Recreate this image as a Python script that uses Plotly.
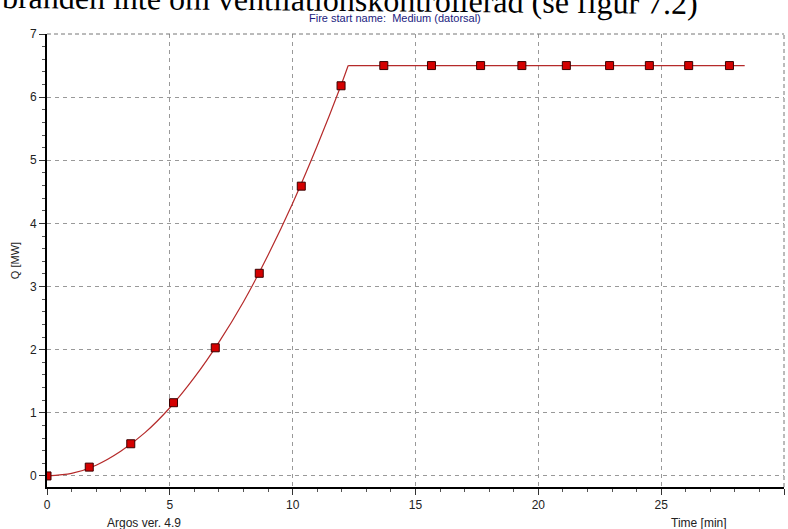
import plotly.graph_objects as go

# Growth part of the curve
grow_t = [0, 1, 2, 3, 4, 5, 6, 7, 8, 9, 10, 11, 12, 12.26]
grow_q = [0, 0.04, 0.17, 0.39, 0.69, 1.08, 1.56, 2.12, 2.76, 3.5, 4.32, 5.23, 6.22, 6.5]
# Plateau part
flat_t = [12.26, 28.4]
flat_q = [6.5, 6.5]

# Markers
mark_t = [0, 1.72, 3.41, 5.15, 6.85, 8.64, 10.35, 11.97, 13.71, 15.65, 17.65, 19.33, 21.14, 22.9, 24.52, 26.12, 27.78]
mark_q = [0, 0.14, 0.51, 1.16, 2.03, 3.21, 4.59, 6.18, 6.5, 6.5, 6.5, 6.5, 6.5, 6.5, 6.5, 6.5, 6.5]

x_ticks = [0, 5, 10, 15, 20, 25, 30]
y_ticks = [0, 1, 2, 3, 4, 5, 6, 7]

line_col = "#b52a2a"
fig = go.Figure()
fig.add_trace(go.Scatter(x=grow_t, y=grow_q, mode="lines",
                         line=dict(color=line_col, width=1.2, shape="spline", smoothing=0.8),
                         hoverinfo="skip"))
fig.add_trace(go.Scatter(x=flat_t, y=flat_q, mode="lines",
                         line=dict(color=line_col, width=1.2), hoverinfo="skip"))
fig.add_trace(go.Scatter(x=mark_t, y=mark_q, mode="markers",
                         marker=dict(symbol="square", size=8, color="#d40000",
                                     line=dict(color="#3a0000", width=1))))

font = "Arial, Liberation Sans"
tickfont = dict(family=font, size=12, color="#222")
grid = dict(showgrid=True, gridcolor="#999", griddash="4px,4px", gridwidth=1,
            zeroline=False, showline=True, linecolor="black", linewidth=2,
            ticks="outside", ticklen=6, tickcolor="#333", tickfont=tickfont,
            automargin=False)
fig.update_xaxes(range=[0, 30], tickvals=x_ticks,
                 minor=dict(dtick=1, ticks="outside", ticklen=3, tickcolor="#555", showgrid=False),
                 **grid)
fig.update_yaxes(range=[-0.175, 7], tickvals=y_ticks,
                 minor=dict(dtick=0.2, ticks="outside", ticklen=3, tickcolor="#555", showgrid=False),
                 title=dict(text="Q [MW]", font=dict(family=font, size=11, color="#222"), standoff=8),
                 **grid)

# dashed top and right borders
fig.add_shape(type="line", xref="paper", yref="paper", x0=0, x1=1, y0=1, y1=1,
              line=dict(color="#777", width=1, dash="4px,3px"))
fig.add_shape(type="line", xref="paper", yref="paper", x0=1, x1=1, y0=0, y1=1,
              line=dict(color="#777", width=1, dash="4px,3px"))

fig.add_annotation(text="branden inte om ventilationskontrollerad (se figur 7.2)",
                   xref="paper", yref="paper", x=0.411, y=1.0232, xanchor="center", yanchor="bottom",
                   textangle=0.5, showarrow=False,
                   font=dict(family="Liberation Serif, Times New Roman", size=32, color="black"))
fig.add_annotation(text="Fire start name:  Medium (datorsal)", xref="paper", yref="paper",
                   x=0.472, y=1.0, xanchor="center", yanchor="bottom", yshift=8, showarrow=False,
                   font=dict(family=font, size=11, color="#1a1a80"))
fig.add_annotation(text="Argos ver. 4.9", xref="paper", yref="paper", x=0.132, y=0,
                   xanchor="center", yanchor="top", yshift=-27, showarrow=False,
                   font=dict(family=font, size=12, color="#222"))
fig.add_annotation(text="Time [min]", xref="paper", yref="paper", x=0.885, y=0,
                   xanchor="center", yanchor="top", yshift=-27, showarrow=False,
                   font=dict(family=font, size=12, color="#222"))

fig.update_layout(width=788, height=529, margin=dict(l=47, r=4, t=34, b=42),
                  paper_bgcolor="white", plot_bgcolor="white", showlegend=False)
fig.write_html("out.html", config={"displayModeBar": False},
               post_script="document.body.style.margin='0px';")
